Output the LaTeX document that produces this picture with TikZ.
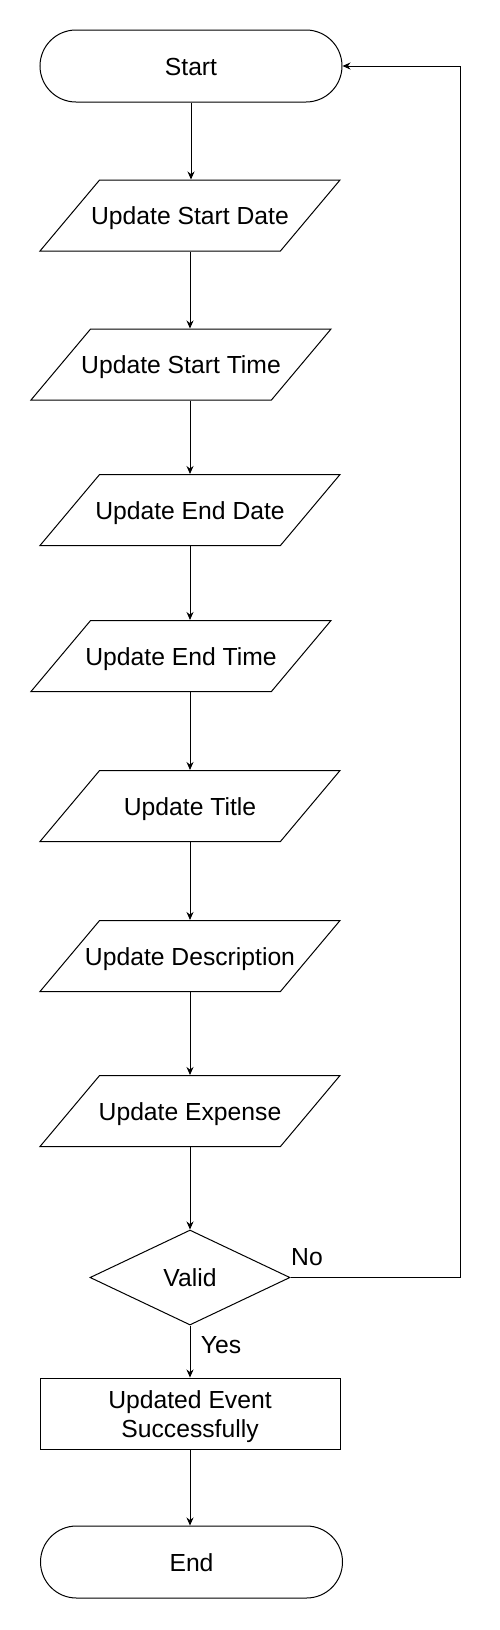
\documentclass[tikz,border=0pt]{standalone}
\usepackage{fontspec}
\setmainfont{Liberation Sans}
\usetikzlibrary{
    arrows.meta,
    positioning,
    shapes.geometric,
}

\begin{document}
\begin{tikzpicture}[
        x=1pt, y=-1pt,
        every node/.style={font=\fontsize{24.7}{29.5}\selectfont, inner sep=0pt},
        term/.style={draw, rectangle, rounded corners=36pt,
            minimum width=302pt, minimum height=72pt,
            text height=18pt, text depth=0pt},
        io/.style={draw, trapezium, trapezium left angle=50,
            trapezium right angle=130, trapezium stretches body,
            minimum width=300pt, inner ysep=26.5pt,
            text height=18pt, text depth=0pt,
            execute at begin node={\hbox to 0pt\bgroup\hss},
            execute at end node={\hss\egroup}},
        decision/.style={draw, diamond, minimum width=200pt,
            minimum height=95pt, text height=18pt, text depth=0pt},
        process/.style={draw, rectangle, align=center,
            minimum width=300pt, minimum height=71pt},
        arr/.style={draw, -{Stealth[length=8pt,width=7pt]}, line width=1pt},
        line width=1pt,
    ]
        \useasboundingbox (0,0) rectangle (499,1630);

        \node[term] (start) at (191,66) {Start};
        \node[io] (sdate) at (190,215.5) {Update Start Date};
        \node[io] (stime) at (181,364.5) {Update Start Time};
        \node[io] (edate) at (190,510) {Update End Date};
        \node[io] (etime) at (181,656) {Update End Time};
        \node[io] (title) at (190,806) {Update Title};
        \node[io] (desc) at (190,956) {Update Description};
        \node[io] (expense) at (190,1111) {Update Expense};
        \node[decision] (valid) at (190,1277.5) {Valid};
        \node[process] (done) at (190,1413.5)
            {\rule{0pt}{23.6pt}Updated Event\\Successfully};
        \node[term] (end) at (191.5,1562) {End};

        % branch labels
        \node (no) at (307,1257) {No};
        \node (yes) at (221,1345) {Yes};

        \coordinate (back) at (460,66);

        \draw[arr] (start) -- (start |- sdate.north);
        \draw[arr] (sdate) -- (sdate |- stime.north);
        \draw[arr] (edate |- stime.south) -- (edate.north -| edate);
        \draw[arr] (edate) -- (edate |- etime.north);
        \draw[arr] (title |- etime.south) -- (title.north -| title);
        \draw[arr] (title) -- (title |- desc.north);
        \draw[arr] (desc) -- (desc |- expense.north);
        \draw[arr] (expense) -- (valid.north);
        \draw[arr] (valid) -- (done);
        \draw[arr] (done) -- (done |- end.north);
        \draw[arr] (valid.east) -| (back) -- (start.east);
    \end{tikzpicture}
\end{document}
